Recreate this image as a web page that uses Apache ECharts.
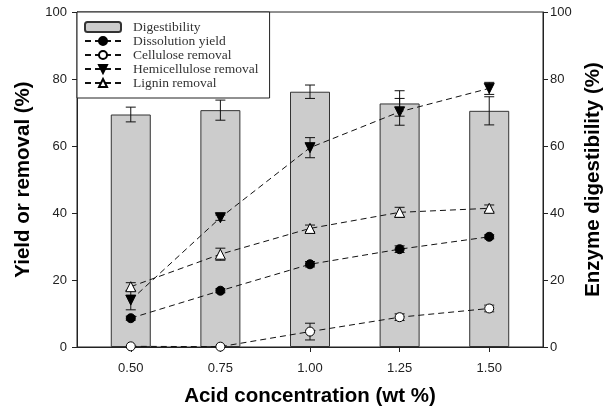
<!DOCTYPE html>
<html>
<head>
<meta charset="utf-8">
<script src="https://cdn.jsdelivr.net/npm/echarts@6/dist/echarts.min.js"></script>
<style>
  html, body { margin: 0; padding: 0; background: #fff; }
  #chart { width: 606px; height: 411px; }
</style>
</head>
<body>
<div id="chart"></div>
<script>
var acid = [0.5, 0.75, 1.0, 1.25, 1.5];
var yTicks = [0, 20, 40, 60, 80, 100];

var digest = [69.4, 70.7, 76.2, 72.7, 70.5];
var digestErr = [2.2, 3.0, 2.0, 3.8, 4.2];
var dissolution = [8.6, 16.8, 24.7, 29.2, 32.9];
var dissolutionErr = [0.6, 0.6, 0.8, 1.0, 0.6];
var cellulose = [0.2, 0.1, 4.6, 8.9, 11.5];
var celluloseErr = [0, 0, 2.5, 1.0, 1.0];
var hemi = [14.0, 38.6, 59.5, 70.2, 77.2];
var hemiErr = [2.9, 0.8, 3.0, 4.0, 1.8];
var lignin = [18.0, 27.7, 35.4, 40.2, 41.4];
var ligninErr = [1.2, 1.8, 1.0, 1.5, 1.0];

function pairs(vals) {
  return vals.map(function (v, i) { return [acid[i], v]; });
}
function errData(vals, errs) {
  return vals.map(function (v, i) { return [acid[i], v - errs[i], v + errs[i]]; });
}
function errSeries(vals, errs, yIndex) {
  return {
    type: "custom",
    yAxisIndex: yIndex,
    z: 4,
    silent: true,
    data: errData(vals, errs),
    renderItem: function (params, api) {
      var lo = api.coord([api.value(0), api.value(1)]);
      var hi = api.coord([api.value(0), api.value(2)]);
      if (hi[1] === lo[1]) return;
      var w = 5;
      var st = { stroke: "#111", lineWidth: 1 };
      return {
        type: "group",
        children: [
          { type: "line", shape: { x1: lo[0], y1: lo[1], x2: hi[0], y2: hi[1] }, style: st },
          { type: "line", shape: { x1: lo[0] - w, y1: lo[1], x2: lo[0] + w, y2: lo[1] }, style: st },
          { type: "line", shape: { x1: hi[0] - w, y1: hi[1], x2: hi[0] + w, y2: hi[1] }, style: st },
        ],
      };
    },
  };
}
function lineSeries(name, vals, symbol, filled, rotate) {
  return {
    name: name,
    type: "line",
    yAxisIndex: 0,
    z: 5,
    data: pairs(vals),
    symbol: symbol,
    symbolSize: symbol === "triangle" ? 10 : 9,
    symbolRotate: rotate || 0,
    showAllSymbol: true,
    lineStyle: { color: "#111", width: 1, type: [6, 4] },
    itemStyle: { color: filled ? "#000" : "#fff", borderColor: "#000", borderWidth: 1 },
    emphasis: { disabled: true },
  };
}

var axisText = { color: "#222", fontSize: 13, fontFamily: "Liberation Sans" };
var titleText = { color: "#000", fontSize: 20.5, fontWeight: "bold", fontFamily: "Liberation Sans" };

var myChart = echarts.init(document.getElementById("chart"));
var option = {
  animation: false,
  grid: {
    left: 77, right: 63, top: 12, bottom: 64,
    containLabel: false,
    outerBoundsMode: "none",
    show: true, borderColor: "#222", borderWidth: 1,
  },
  legend: {
    orient: "vertical",
    left: 77,
    top: 12,
    padding: [8, 11, 8, 7],
    itemGap: 0,
    itemWidth: 36,
    itemHeight: 10,
    backgroundColor: "#fff",
    borderColor: "#222",
    borderWidth: 1,
    textStyle: { color: "#333", fontSize: 13.5, fontFamily: "Liberation Serif", lineHeight: 14, padding: [0, 0, 0, 7] },
    data: [
      { name: "Digestibility", icon: "roundRect" },
      "Dissolution yield",
      "Cellulose removal",
      "Hemicellulose removal",
      "Lignin removal",
    ],
  },
  xAxis: {
    type: "value",
    min: 0.35,
    max: 1.65,
    name: "Acid concentration (wt %)",
    nameLocation: "middle",
    nameGap: 39,
    nameTextStyle: titleText,
    axisLine: { lineStyle: { color: "#222" } },
    axisTick: { length: 5, customValues: acid, lineStyle: { color: "#222" } },
    axisLabel: Object.assign({ customValues: acid, margin: 15, formatter: function (v) { return v.toFixed(2); } }, axisText),
    splitLine: { show: false },
  },
  yAxis: [
    {
      type: "value",
      min: 0,
      max: 100,
      interval: 20,
      name: "Yield or removal (%)",
      nameLocation: "middle",
      nameGap: 43,
      nameTextStyle: titleText,
      axisLine: { show: true, lineStyle: { color: "#222" } },
      axisTick: { show: true, length: 5, lineStyle: { color: "#222" } },
      axisLabel: Object.assign({ margin: 10 }, axisText),
      splitLine: { show: false },
    },
    {
      type: "value",
      min: 0,
      max: 100,
      interval: 20,
      position: "right",
      name: "Enzyme digestibility (%)",
      nameLocation: "middle",
      nameGap: 40,
      nameRotate: 90,
      nameTextStyle: titleText,
      axisLine: { show: true, lineStyle: { color: "#222" } },
      axisTick: { show: true, length: 5, lineStyle: { color: "#222" } },
      axisLabel: Object.assign({ margin: 7 }, axisText),
      splitLine: { show: false },
    },
  ],
  series: [
    {
      name: "Digestibility",
      type: "bar",
      yAxisIndex: 1,
      z: 2,
      barWidth: 40,
      data: pairs(digest),
      itemStyle: { color: "#cccccc", borderColor: "#333", borderWidth: 1 },
      emphasis: { disabled: true },
    },
    errSeries(digest, digestErr, 1),
    lineSeries("Dissolution yield", dissolution, "circle", true),
    lineSeries("Cellulose removal", cellulose, "circle", false),
    lineSeries("Hemicellulose removal", hemi, "triangle", true, 180),
    lineSeries("Lignin removal", lignin, "triangle", false),
    errSeries(dissolution, dissolutionErr, 0),
    errSeries(cellulose, celluloseErr, 0),
    errSeries(hemi, hemiErr, 0),
    errSeries(lignin, ligninErr, 0),
  ],
};
option && myChart.setOption(option);
</script>
</body>
</html>
